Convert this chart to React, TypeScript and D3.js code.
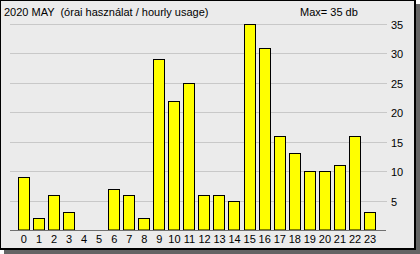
import React from "react";
import * as d3 from "d3";

const hours = ["0","1","2","3","4","5","6","7","8","9","10","11","12","13","14","15","16","17","18","19","20","21","22","23"];
const usage = [9, 2, 6, 3, 0, 0, 7, 6, 2, 29, 22, 25, 6, 6, 5, 35, 31, 16, 13, 10, 10, 11, 16, 3];
const yTicks = [5, 10, 15, 20, 25, 30, 35];
const titleText = "2020 MAY  (órai használat / hourly usage)";
const maxText = "Max= 35 db";

const W = 420;
const H = 254;
const FONT = "'Liberation Sans', Arial, sans-serif";

export default function App() {
  const x = d3.scaleBand<string>().domain(hours).range([17, 377]).paddingInner(0.18).paddingOuter(0.05);
  const y = d3.scaleLinear().domain([0, 35]).range([230, 24]);
  const gridX0 = 10;
  const gridX1 = 387;

  return (
    <div style={{ position: "absolute", left: 0, top: 0 }}>
      <svg width={W} height={H} style={{ display: "block" }}>
        {/* shadow */}
        <rect x={4} y={4} width={416} height={250} fill="#646464" />
        {/* frame */}
        <rect x={0} y={0} width={416} height={250} fill="#000" />
        <rect x={1} y={1} width={413} height={247} fill="#ebebeb" />
        {/* grid */}
        {yTicks.map((t) => (
          <g key={t}>
            <line x1={gridX0} x2={gridX1} y1={Math.round(y(t)) + 0.5} y2={Math.round(y(t)) + 0.5} stroke="#c8c8c8" strokeWidth={1} />
            <text x={391} y={Math.round(y(t)) + 4.5} fontFamily={FONT} fontSize={11} fill="#000">{t}</text>
          </g>
        ))}
        {/* bars */}
        {hours.map((h, i) => {
          const v = usage[i];
          if (v <= 0) return null;
          const x0 = Math.round(x(h) as number) + 0.5;
          const bw = Math.round(x.bandwidth()) - 1;
          const top = Math.round(y(v)) + 0.5;
          return (
            <rect key={h} x={x0} y={top} width={bw} height={230 - top} fill="#ffff00" stroke="#000" strokeWidth={1} />
          );
        })}
        {/* baseline */}
        <line x1={gridX0} x2={386} y1={230.5} y2={230.5} stroke="#707070" strokeWidth={1} />
        {/* x labels */}
        {hours.map((h) => (
          <text key={h} x={(x(h) as number) + x.bandwidth() / 2} y={243} textAnchor="middle" fontFamily={FONT} fontSize={11} fill="#000">{h}</text>
        ))}
        {/* titles */}
        <text x={4} y={16} fontFamily={FONT} fontSize={11} fill="#000" style={{ whiteSpace: "pre" }}>{titleText}</text>
        <text x={300} y={16} fontFamily={FONT} fontSize={11} fill="#000">{maxText}</text>
      </svg>
    </div>
  );
}
